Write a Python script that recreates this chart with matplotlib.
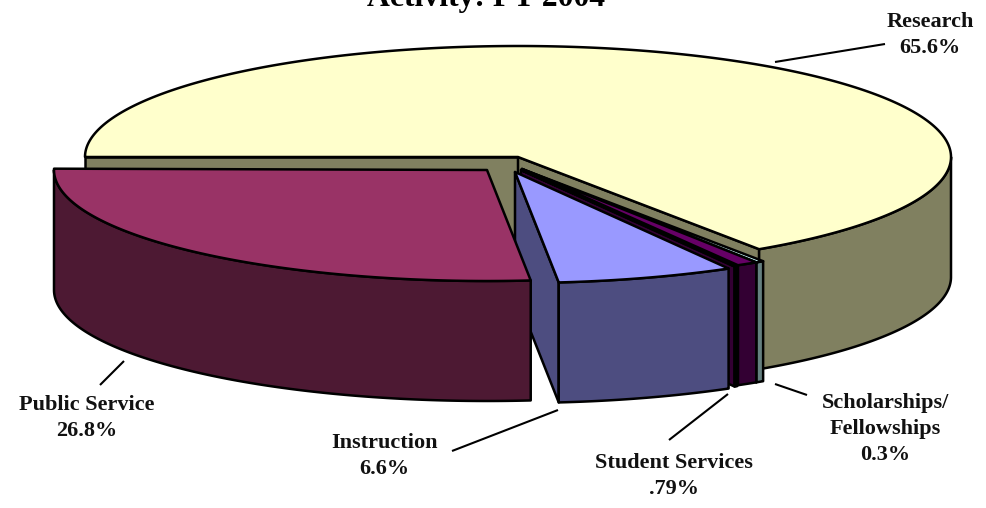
import numpy as np
import matplotlib
matplotlib.use("Agg")
import matplotlib.pyplot as plt

# --- data ---
title = "Activity: FY 2004"
categories = ["Research", "Scholarships/\nFellowships", "Student Services", "", "Instruction", "Public Service"]
value_labels = ["65.6%", "0.3%", ".79%", "", "6.6%", "26.8%"]
values = [65.6, 0.3, 0.79, 0.1, 6.6, 26.8]

# --- style / layout ---
top_colors = ["#FFFFCC", "#CCFFFF", "#660066", "#660066", "#9999FF", "#993366"]
side_colors = ["#808060", "#668080", "#330033", "#330033", "#4D4D80", "#4D1933"]
centers = [(518, 157), (522, 169), (522, 169), (521, 170), (515, 172), (487, 170)]
RX, RY, DEPTH = 433, 111, 120
LW = 1.8
label_pos = [(930, 35), (885, 429), (674, 476), None, (384, 456), (87, 418)]
leaders = [((775, 62), (885, 44)), ((775, 384), (807, 395)), ((669, 440), (728, 394)),
           None, ((452, 451), (558, 410)), ((100, 385), (124, 361))]

fig = plt.figure(figsize=(9.87, 5.08), dpi=100)
ax = fig.add_axes([0, 0, 1, 1])
ax.set_xlim(0, 987)
ax.set_ylim(508, 0)
ax.axis("off")

SERIF = "Liberation Serif"


def pt(c, t, drop=0):
    t = np.radians(t)
    return c[0] + RX * np.cos(t), c[1] - RY * np.sin(t) + drop


def poly(xs, ys, color, z):
    ax.fill(xs, ys, facecolor=color, edgecolor="black", linewidth=LW, joinstyle="round", zorder=z)


angles = 180 - np.concatenate([[0], np.cumsum(values)]) * 3.6
for i, v in enumerate(values):
    start, end = angles[i], angles[i + 1]
    c = centers[i]
    z = 2 + i * 0.1
    # cut faces that look towards the viewer
    for a, normal in ((start, start + 90), (end, end - 90)):
        if np.sin(np.radians(normal)) < 0:
            ex, ey = pt(c, a)
            poly([c[0], ex, ex, c[0]], [c[1], ey, ey + DEPTH, c[1] + DEPTH], side_colors[i], z)
    # outer wall
    lo, hi = max(end, -180), min(start, 0)
    if hi > lo:
        t = np.linspace(lo, hi, 200)
        x, y = pt(c, t)
        poly(np.r_[x, x[::-1]], np.r_[y, (y + DEPTH)[::-1]], side_colors[i], z + 0.01)
    # top face
    t = np.linspace(start, end, 500)
    x, y = pt(c, t)
    poly(np.r_[c[0], x], np.r_[c[1], y], top_colors[i], z + 0.02)

    if leaders[i]:
        (x0, y0), (x1, y1) = leaders[i]
        ax.plot([x0, x1], [y0, y1], color="black", lw=1.5, zorder=5, solid_capstyle="butt")
    if label_pos[i]:
        ax.text(*label_pos[i], f"{categories[i]}\n{value_labels[i]}", ha="center", va="center",
                family=SERIF, fontweight="bold", fontsize=16, color="#111111",
                linespacing=1.39, zorder=6)

ax.text(486, 6, title, ha="center", va="baseline", family=SERIF, fontweight="bold",
        fontsize=22.8, color="black", zorder=6)

fig.savefig("out.png", dpi=100)
